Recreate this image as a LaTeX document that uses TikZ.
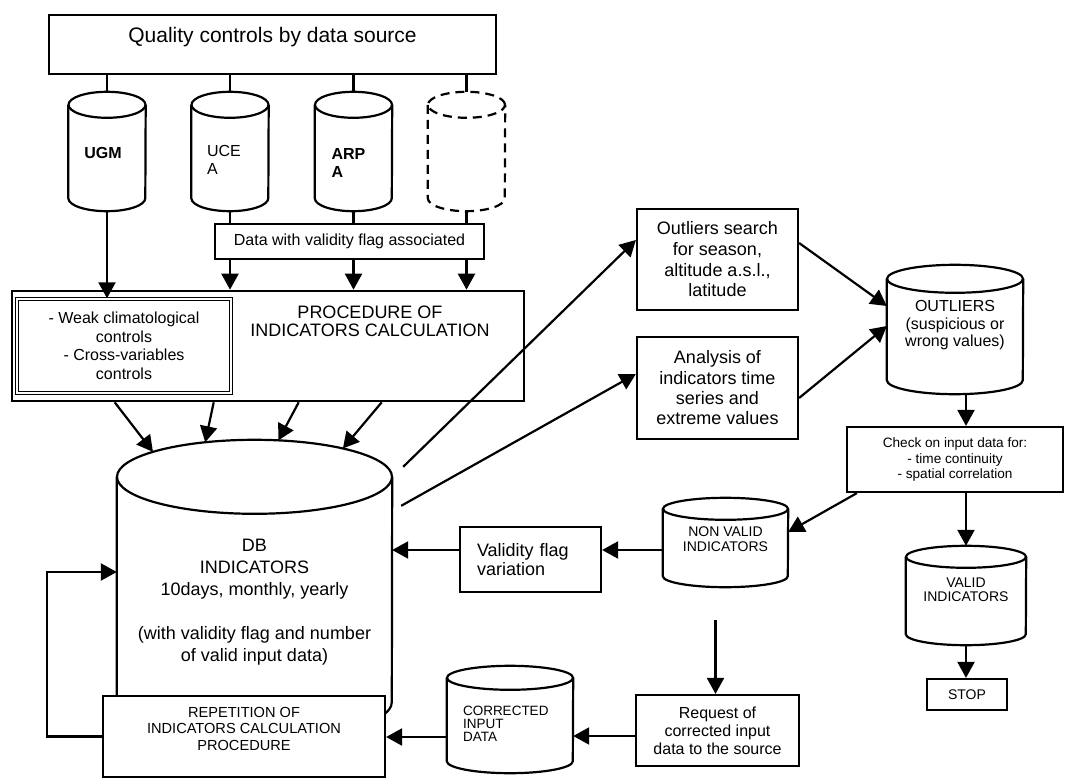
\documentclass[tikz,border=0pt]{standalone}
\usepackage{fontspec}
\setmainfont{Liberation Sans}
\usetikzlibrary{arrows.meta,positioning,calc}

% cylinder outline round an empty node: [extra style] name, x radius, y radius
\newcommand{\drawcyl}[4][]{%
  \draw[cylline,#1] ([yshift=-#4pt]#2.north west) -- ([yshift=#4pt]#2.south west)
    arc[start angle=180,end angle=360,x radius=#3pt,y radius=#4pt]
    -- ([yshift=-#4pt]#2.north east);
  \draw[cylline,#1] ([yshift=-#4pt]#2.north) ellipse[x radius=#3pt,y radius=#4pt];
}

\begin{document}
\begin{tikzpicture}[
  x=1pt,y=-1pt,
  box/.style={draw,line width=2.2pt,inner sep=3pt},
  cyl/.style={rectangle,draw=none,inner sep=0pt},
  cylline/.style={line width=2.2pt},
  line/.style={line width=2.2pt},
  arr/.style={line width=2.2pt,-{Triangle[length=16pt,width=17pt]}},
  titletxt/.style={font=\fontsize{21}{24}\selectfont},
  bigtxt/.style={font=\fontsize{18}{20.5}\selectfont},
  midtxt/.style={font=\fontsize{16}{18}\selectfont},
  smalltxt/.style={font=\fontsize{14}{15.5}\selectfont},
  lbl/.style={inner sep=0pt}
]
\path[use as bounding box,fill=white] (0,0) rectangle (1066,778);

% Sources
\node[box,titletxt,minimum width=447pt,minimum height=59pt,
      text height=16pt,text depth=19pt] (qbox) at (272.5,44.5) {Quality controls by data source};

\node[cyl,minimum width=77pt,minimum height=119pt] (ugm) at (107,151.5) {};
\node[cyl,minimum width=77pt,minimum height=119pt] (ucea) at (230,151.5) {};
\node[cyl,minimum width=77pt,minimum height=119pt] (arpa) at (353.5,151.5) {};
\node[cyl,minimum width=77pt,minimum height=119pt] (extra) at (466.5,151.5) {};
\drawcyl{ugm}{38.5}{13}
\drawcyl{ucea}{38.5}{13}
\drawcyl{arpa}{38.5}{13}
\drawcyl[dash pattern=on 9pt off 6pt]{extra}{38.5}{13}
\node[lbl,midtxt] (ugmtxt) at ([xshift=-4pt,yshift=-1.5pt]ugm.center) {\textbf{UGM}};
\node[lbl,midtxt,align=left] (uceatxt) at ([xshift=-6pt,yshift=-8pt]ucea.center) {UCE\\A};
\node[lbl,midtxt,align=left] (arpatxt) at ([xshift=-5pt,yshift=-11pt]arpa.center) {\textbf{ARP}\\\textbf{A}};

\node[box,midtxt,minimum width=269pt,minimum height=35pt] (dbox) at (349.5,241.5)
  {Data with validity flag associated};

% Procedure
\node[box,line width=2.6pt,minimum width=512pt,minimum height=110pt] (proc) at (268,346) {};
\node[box,midtxt,align=center,double,double distance=1.2pt,line width=1.4pt,
      font=\fontsize{16}{18.5}\selectfont,
      minimum width=214pt,minimum height=94pt] (weak) at (124,346)
  {- Weak climatological\\controls\\- Cross-variables\\controls};
\node[lbl,align=center,font=\fontsize{18}{18}\selectfont] (proctxt) at (370,321)
  {PROCEDURE OF\\INDICATORS CALCULATION};

\foreach \cy in {ugm,ucea,arpa,extra}
  \draw[line] (\cy.north |- qbox.south) -- (\cy.north);
\foreach \cy in {ucea,arpa,extra}{
  \draw[line] (\cy.south) -- (\cy.south |- dbox.north);
  \draw[arr] (\cy.south |- dbox.south) -- (\cy.south |- proc.north);
}
\draw[arr] (ugm.south) -- (ugm.south |- weak.north);

% DB indicators
\node[cyl,minimum width=275pt,minimum height=299pt] (db) at (254.5,589.5) {};
\drawcyl{db}{137.5}{37}
\node[lbl,bigtxt,align=center,font=\fontsize{18}{22}\selectfont] (dbtxt) at ([yshift=-13pt]db.center)
  {DB\\INDICATORS\\10days, monthly, yearly\\[22pt](with validity flag and number\\of valid input data)};
\coordinate (dbc) at ([yshift=-37pt]db.north);
\foreach \sx/\a in {104/137.6,203/111,288/80,371/50}
  \draw[arr] ($(proc.south west)+(\sx,0)$) -- ($(dbc)+({137.5*cos(\a)},{-37*sin(\a)})$);

% Outliers
\node[box,align=center,font=\fontsize{18}{20.7}\selectfont,
      minimum width=161pt,minimum height=101pt] (osearch) at (717.5,259.5)
  {Outliers search\\for season,\\altitude a.s.l.,\\latitude};
\node[box,align=center,font=\fontsize{18}{20.3}\selectfont,
      minimum width=161pt,minimum height=102pt] (anal) at (717.5,388)
  {Analysis of\\indicators time\\series and\\extreme values};
\draw[arr] ($(db.north east)+(11,27)$) -- ([yshift=19.5pt]osearch.west);
\draw[arr] ($(db.north east)+(9,66)$) -- ([yshift=14pt]anal.west);

\node[cyl,minimum width=136pt,minimum height=129pt] (outl) at (955,329.5) {};
\drawcyl{outl}{68}{14}
\node[lbl,align=center,font=\fontsize{16}{17.5}\selectfont] (outltxt) at ([yshift=4pt]outl.center)
  {OUTLIERS\\(suspicious or\\wrong values)};
\draw[arr] ([yshift=16.5pt]osearch.east) -- ([yshift=23.5pt]outl.west);
\draw[arr] ([yshift=-10pt]anal.east) -- ([yshift=3.5pt]outl.west);

% Checks
\node[box,align=center,font=\fontsize{13.6}{15.5}\selectfont,
      minimum width=216pt,minimum height=65pt] (check) at (955,459.5)
  {Check on input data for:\\- time continuity\\- spatial correlation};
\node[cyl,minimum width=120pt,minimum height=99pt] (valid) at (966,595.5) {};
\drawcyl{valid}{60}{11}
\node[lbl,align=center,font=\fontsize{14}{14}\selectfont] (validtxt) at ([yshift=5.5pt]valid.center)
  {VALID\\INDICATORS};
\node[box,smalltxt,minimum width=80pt,minimum height=31pt] (stop) at (967,694.5) {STOP};
\draw[arr] (outl.south -| valid.north) -- (valid.north |- check.north);
\draw[arr] (check.south -| valid.north) -- (valid.north);
\draw[arr] (valid.south) -- (valid.south |- stop.north);

\node[cyl,minimum width=125pt,minimum height=89pt] (nonvalid) at (725.5,542.5) {};
\drawcyl{nonvalid}{62.5}{11}
\node[lbl,align=center,font=\fontsize{14}{15}\selectfont] (nonvalidtxt) at ([yshift=3pt]nonvalid.center)
  {NON VALID\\INDICATORS};
\draw[arr] ($(check.south west)+(11,0)$) -- ([yshift=10.5pt]nonvalid.east);

\node[box,align=left,text width=107pt,font=\fontsize{18}{19}\selectfont,
      minimum width=141pt,minimum height=65pt] (vflag) at (530.5,559.5)
  {Validity flag\\variation};
\draw[arr] ([yshift=-7.5pt]nonvalid.west) -- ([yshift=-7.5pt]nonvalid.west -| vflag.east);
\draw[arr] ([yshift=9.5pt]vflag.west) -- ([yshift=9.5pt]vflag.west -| db.east);

% Correction loop
\node[box,midtxt,align=center,minimum width=163pt,minimum height=71pt] (req) at (717.5,730.5)
  {Request of\\corrected input\\data to the source};
\coordinate (reqin) at ([xshift=-10pt,yshift=-33pt]nonvalid.south);
\draw[arr] (reqin) -- (reqin |- req.north);

\node[cyl,minimum width=126pt,minimum height=107pt] (corr) at (510,719.5) {};
\drawcyl{corr}{63}{12}
\node[lbl,align=left,text width=94pt,font=\fontsize{13.5}{13}\selectfont] (corrtxt)
  at ([yshift=-4.5pt]corr.center) {CORRECTED\\INPUT\\DATA};
\draw[arr] ([yshift=-5.5pt]req.west) -- ([yshift=-5.5pt]req.west -| corr.east);

\node[box,fill=white,minimum width=282pt,minimum height=81pt] (rep) at (244,736.5) {};
\node[lbl,align=center,font=\fontsize{14.6}{16.5}\selectfont] (reptxt) at ([yshift=8pt]rep.center)
  {REPETITION OF\\INDICATORS CALCULATION\\PROCEDURE};
\draw[arr] ([yshift=-17.5pt]corr.west) -- ([yshift=-17.5pt]corr.west -| rep.east);
\draw[arr] (rep.west) -- ++(-55,0) |- ([yshift=17.5pt]db.west);

\end{tikzpicture}
\end{document}
